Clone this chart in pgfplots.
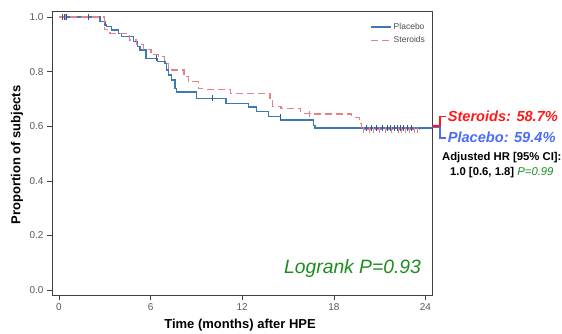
\documentclass[border=0pt]{standalone}
\usepackage{fontspec}
\setmainfont{Liberation Sans}
\usepackage{pgfplots}
\pgfplotsset{compat=1.18}
\definecolor{plac}{HTML}{3F78B4}
\definecolor{placdark}{HTML}{2C5A96}
\definecolor{ster}{HTML}{E8808A}
\definecolor{brblue}{HTML}{4A6CF7}
\definecolor{brred}{HTML}{FF1A1A}
\definecolor{grn}{HTML}{1E8C1E}
\begin{document}
\begin{tikzpicture}
\begin{axis}[
  scale only axis, width=380pt, height=284pt,
  xmin=-0.458, xmax=24.43, ymin=-0.018, ymax=1.022,
  clip=false,
  axis line style={black!75, line width=0.8pt},
  xtick={0,6,12,18,24}, ytick={0,0.2,0.4,0.6,0.8,1.0},
  yticklabel style={/pgf/number format/.cd, fixed, fixed zerofill, precision=1},
  /pgf/number format/assume math mode=true,
  tick align=outside, major tick length=5pt, tick style={black!75, line width=0.6pt},
  xtick pos=bottom, ytick pos=left,
  ticklabel style={font=\fontsize{10}{12}\selectfont, text=black!65},
  xlabel={Time (months) after HPE}, ylabel={Proportion of subjects},
  label style={font=\fontsize{13}{15}\selectfont\bfseries},
  xlabel style={at={(axis description cs:0.495,-0.105)}, anchor=center},
  ylabel style={at={(axis description cs:-0.092,0.493)}, anchor=center},
  legend style={at={(0.995,0.972)}, anchor=north east, draw=none, fill=none,
    font=\fontsize{8.5}{10}\selectfont, text=black!70, row sep=2pt},
  legend cell align=left,
  legend image code/.code={\draw[#1] (0pt,0pt) -- (20pt,0pt);},
]
\addplot[const plot, plac, line width=1.3pt] coordinates {
(0,1.0) (2.68,0.983) (3.01,0.971) (3.12,0.965) (3.45,0.952) (3.89,0.940)
(4.10,0.928) (4.87,0.910) (5.13,0.891) (5.30,0.879) (5.70,0.849) (6.44,0.836)
(6.94,0.830) (7.05,0.806) (7.16,0.788) (7.38,0.769) (7.60,0.739) (7.71,0.726)
(9.02,0.702) (10.94,0.684) (12.40,0.671) (12.94,0.653) (13.71,0.635) (14.52,0.623)
(16.65,0.604) (16.76,0.594) (24.43,0.594)};
\addlegendentry{Placebo}
\addplot[const plot, ster, line width=1.1pt, dash pattern=on 7pt off 4pt] coordinates {
(0,1.0) (2.98,0.954) (3.34,0.940) (4.61,0.916) (5.09,0.898) (5.52,0.882)
(6.03,0.862) (6.50,0.854) (6.94,0.830) (7.16,0.812) (7.31,0.806) (8.19,0.781)
(8.47,0.763) (9.12,0.739) (9.41,0.735) (11.24,0.721) (13.82,0.696) (13.99,0.674)
(14.54,0.666) (15.83,0.647) (16.55,0.645) (19.17,0.632) (19.67,0.610) (19.82,0.587)
(23.6,0.587)};
\addlegendentry{Steroids}
% censor marks
\addplot[only marks, mark=|, mark size=3pt, ster, mark options={line width=0.8pt}, forget plot] coordinates {
(0.25,1.0) (0.45,1.0) (16.4,0.645)
(19.95,0.587) (20.3,0.587) (20.6,0.587) (21.0,0.587) (21.4,0.587) (21.8,0.587)
(22.2,0.587) (22.45,0.587) (22.7,0.587) (22.95,0.587) (23.25,0.587) (23.5,0.587)};
\addplot[only marks, mark=|, mark size=3pt, placdark, mark options={line width=0.8pt}, forget plot] coordinates {
(0.2,1.0) (0.35,1.0) (0.5,1.0) (1.95,1.0) (6.35,0.849) (10.05,0.702) (14.47,0.635)
(20.1,0.594) (20.45,0.594) (20.8,0.594) (21.15,0.594) (21.5,0.594) (21.7,0.594)
(21.95,0.594) (22.15,0.594) (22.35,0.594) (22.55,0.594) (22.8,0.594) (23.1,0.594)};
% bracket
\draw[brred, line width=1.1pt] (axis cs:24.43,0.601) -| (axis cs:24.95,0.637) -- (axis cs:25.34,0.637);
\draw[brblue, line width=1.1pt] (axis cs:24.43,0.596) -| (axis cs:24.95,0.557) -- (axis cs:25.34,0.557);
\node[anchor=west, text=brred, font=\fontsize{14.6}{16}\selectfont\bfseries\itshape, inner sep=0pt] at (axis cs:25.45,0.637) {Steroids: 58.7\%};
\node[anchor=west, text=brblue, font=\fontsize{14.6}{16}\selectfont\bfseries\itshape, inner sep=0pt] at (axis cs:25.45,0.560) {Placebo: 59.4\%};
\node[anchor=center, font=\fontsize{11.3}{13}\selectfont\bfseries, inner sep=0pt] at (axis cs:29.0,0.487) {Adjusted HR [95\% CI]:};
\node[anchor=center, font=\fontsize{11.3}{13}\selectfont\bfseries, inner sep=0pt] at (axis cs:29.0,0.429) {1.0 [0.6, 1.8] \textcolor{grn}{\mdseries\itshape P=0.99}};
\node[anchor=east, text=grn, font=\fontsize{19.3}{21}\selectfont\itshape, inner sep=0pt] at (axis cs:23.72,0.081) {Logrank P=0.93};
\coordinate (bl) at (axis cs:-3.86,-0.1575);
\coordinate (tr) at (axis cs:32.94,1.0623);
\end{axis}
\pgfresetboundingbox
\path[use as bounding box] (bl) rectangle (tr);
\end{tikzpicture}
\end{document}
